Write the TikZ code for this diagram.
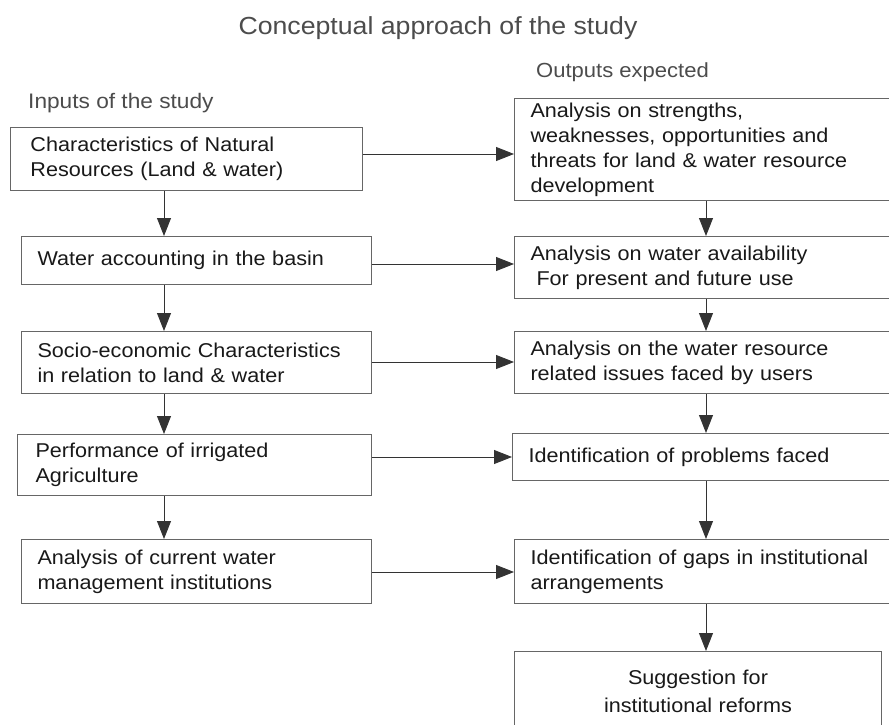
\documentclass[tikz,border=0pt]{standalone}
\usepackage{fontspec}
\setmainfont[FakeStretch=1.08]{Liberation Sans}
\usetikzlibrary{arrows.meta}
\begin{document}
\begin{tikzpicture}[x=1pt,y=-1pt,
  box/.style={draw=black!60, line width=1pt, anchor=north west, align=left,
    text=black!90, font=\fontsize{20}{25}\selectfont, inner ysep=0pt},
  lbox/.style={box, minimum width=350pt, text width=318pt, inner xsep=16pt},
  rbox/.style={box, minimum width=400pt, text width=368pt, inner xsep=16pt},
  arr/.style={draw=black!80, line width=0.9pt, -{Triangle[length=18pt,width=14pt]}},
  hdr/.style={text=black!70, inner sep=0pt}]
\fill[white] (0,0) rectangle (889,725);
\useasboundingbox (0,0) rectangle (889,725);
\clip (0,0) rectangle (889,725);

\node[text=black!70, font=\fontsize{24.7}{29}\selectfont] (title) at (438,28) {Conceptual approach of the study};
\node[hdr, anchor=west, font=\fontsize{21}{25}\selectfont] (inp) at (28,103) {Inputs of the study};
\node[hdr, anchor=west, font=\fontsize{20.4}{25}\selectfont] (outp) at (536,72) {Outputs expected};

% left column
\node[box, minimum width=352pt, text width=312pt, inner xsep=20pt, minimum height=63pt] (L1) at (10,127)
  {Characteristics of Natural\\Resources (Land \& water)};
\node[lbox, minimum height=48pt] (L2) at (21,236) {Water accounting in the basin};
\node[lbox, minimum height=62pt] (L3) at (21,331) {Socio-economic Characteristics\\in relation to land \& water};
\node[lbox, minimum width=352pt, inner xsep=18pt, minimum height=61pt] (L4) at (17,434) {Performance of irrigated\\Agriculture};
\node[lbox, minimum height=64pt] (L5) at (21,539) {Analysis of current water\\management institutions};

% right column
\node[rbox, minimum height=102pt] (R1) at (514,98)
  {Analysis on strengths,\\weaknesses, opportunities and\\threats for land \& water resource\\development};
\node[rbox, minimum height=62pt] (R2) at (514,236) {Analysis on water availability\\\hspace*{0.3em}For present and future use};
\node[rbox, minimum height=62pt] (R3) at (514,331) {Analysis on the water resource\\related issues faced by users};
\node[rbox, minimum height=47pt] (R4) at (512,433) {Identification of problems faced};
\node[rbox, minimum height=64pt] (R5) at (514,539) {Identification of gaps in institutional\\arrangements};
\node[box, align=center, minimum width=367pt, text width=340pt, inner xsep=13pt, minimum height=80pt,
  font=\fontsize{20}{28}\selectfont] (R6) at (514,651) {Suggestion for\\institutional reforms};

% vertical arrows
\coordinate (cl) at (164,0);
\coordinate (cr) at (706,0);
\draw[arr] (L1.south -| cl) -- (L2.north -| cl);
\draw[arr] (L2.south -| cl) -- (L3.north -| cl);
\draw[arr] (L3.south -| cl) -- (L4.north -| cl);
\draw[arr] (L4.south -| cl) -- (L5.north -| cl);
\draw[arr] (R1.south -| cr) -- (R2.north -| cr);
\draw[arr] (R2.south -| cr) -- (R3.north -| cr);
\draw[arr] (R3.south -| cr) -- (R4.north -| cr);
\draw[arr] (R4.south -| cr) -- (R5.north -| cr);
\draw[arr] (R5.south -| cr) -- (R6.north -| cr);

% horizontal arrows
\coordinate (h1) at (0,154);
\coordinate (h2) at (0,264);
\coordinate (h3) at (0,362);
\coordinate (h4) at (0,457);
\coordinate (h5) at (0,572);
\draw[arr] (L1.east |- h1) -- (R1.west |- h1);
\draw[arr] (L2.east |- h2) -- (R2.west |- h2);
\draw[arr] (L3.east |- h3) -- (R3.west |- h3);
\draw[arr] (L4.east |- h4) -- (R4.west |- h4);
\draw[arr] (L5.east |- h5) -- (R5.west |- h5);
\end{tikzpicture}
\end{document}
